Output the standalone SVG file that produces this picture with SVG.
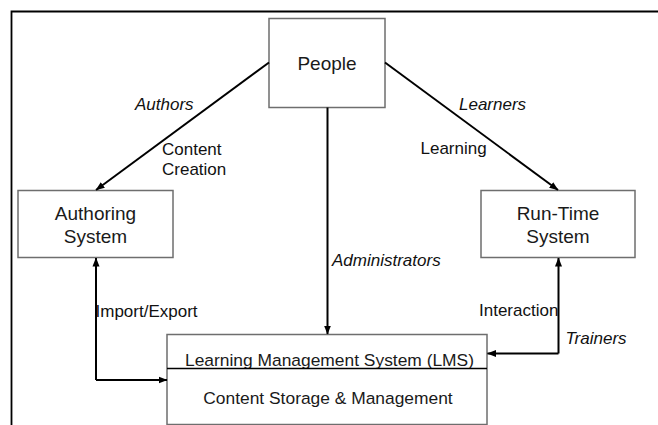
<svg xmlns="http://www.w3.org/2000/svg" width="658" height="425" viewBox="0 0 658 425">
<defs>
<marker id="ah" markerWidth="9" markerHeight="8" refX="8.5" refY="4" orient="auto" markerUnits="userSpaceOnUse">
<path d="M0,0.5 L9,4 L0,7.5 Z" fill="#000"/>
</marker>
</defs>
<style>
.box{fill:#fff;stroke:#6e6e6e;stroke-width:1.5}
.node{font-family:"Liberation Sans",Arial,sans-serif;font-size:19px;fill:#1a1a1a;text-anchor:middle}
.lms{font-family:"Liberation Sans",Arial,sans-serif;font-size:17.4px;fill:#1a1a1a;text-anchor:middle}
.lbl{font-family:"Liberation Sans",Arial,sans-serif;font-size:17px;fill:#111}
.it{font-style:italic}
.conn{fill:none;stroke:#000;stroke-width:2}
</style>
<rect width="658" height="425" fill="#fff"/>
<g id="frame">
<path d="M11.5,425 V11.5 H658" fill="none" stroke="#000" stroke-width="1.8"/>
</g>
<g id="people">
<rect class="box" x="269" y="18.5" width="116" height="89"/>
<text class="node" x="327" y="70">People</text>
</g>
<g id="authoring">
<rect class="box" x="18" y="190.5" width="155" height="67"/>
<text class="node" x="95.5" y="219.5">Authoring</text>
<text class="node" x="95.5" y="242.5">System</text>
</g>
<g id="runtime">
<rect class="box" x="481" y="190.5" width="154" height="67"/>
<text class="node" x="558" y="219.5">Run-Time</text>
<text class="node" x="558" y="242.5">System</text>
</g>
<g id="lms">
<rect class="box" x="167" y="334.5" width="320" height="90"/>
<text class="lms" x="329.5" y="366">Learning Management System (LMS)</text>
<line x1="167" y1="368.5" x2="487" y2="368.5" stroke="#000" stroke-width="1.3"/>
<text class="lms" x="328" y="404">Content Storage &amp; Management</text>
</g>
<g id="connectors">
<path class="conn" d="M269,62.5 L96,190" marker-end="url(#ah)"/>
<path class="conn" d="M385,62.5 L558,190" marker-end="url(#ah)"/>
<path class="conn" d="M327.5,107.5 V334" marker-end="url(#ah)"/>
<path class="conn" d="M96,380 V258" marker-end="url(#ah)"/>
<path class="conn" d="M96,380 H167" marker-end="url(#ah)"/>
<path class="conn" d="M558.5,353.5 V258" marker-end="url(#ah)"/>
<path class="conn" d="M558.5,353.5 H487.5" marker-end="url(#ah)"/>
</g>
<g id="labels">
<text class="lbl it" x="135" y="110">Authors</text>
<text class="lbl" x="162" y="155">Content</text>
<text class="lbl" x="162" y="175">Creation</text>
<text class="lbl it" x="459" y="110">Learners</text>
<text class="lbl" x="420.5" y="154">Learning</text>
<text class="lbl it" x="332" y="266">Administrators</text>
<text class="lbl" x="95.5" y="317">Import/Export</text>
<text class="lbl" x="479" y="316">Interaction</text>
<text class="lbl it" x="565.5" y="343.5">Trainers</text>
</g>
</svg>
